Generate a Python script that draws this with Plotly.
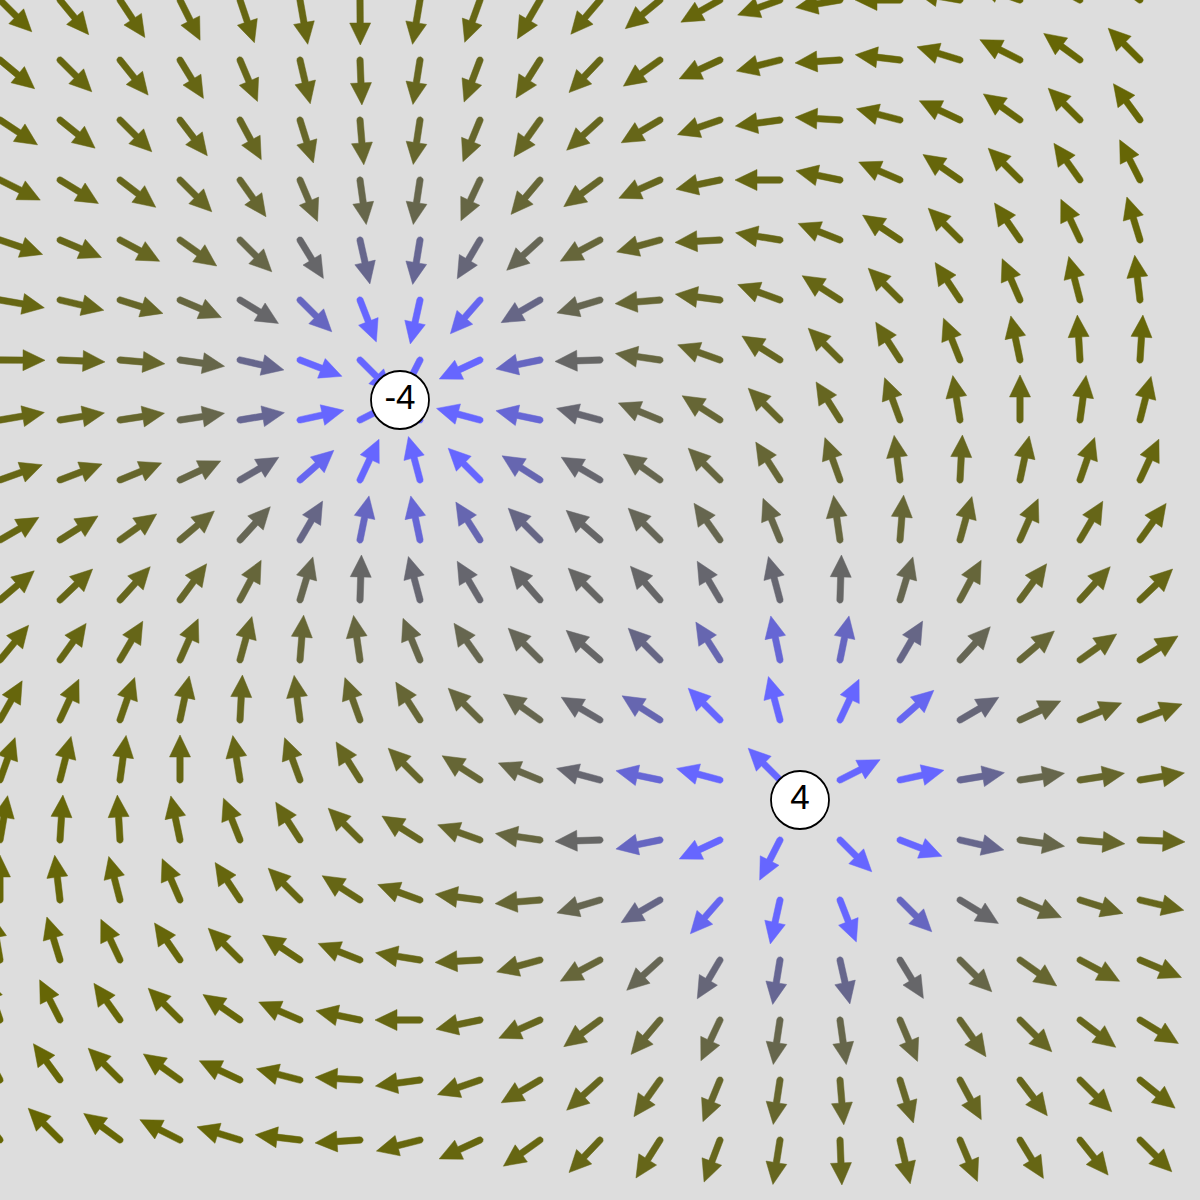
import math
import numpy as np
import plotly.graph_objects as go

# ---- data ----
charge_values = [-4, 4]
charge_x = [400, 800]
charge_y = [400, 800]
charge_labels = ["-4", "4"]

grid_x = list(range(0, 1200, 60))
grid_y = list(range(0, 1200, 60))

# ---- style ----
W = H = 1200
ARROW_LEN = 45
HEAD_LEN = 22
HEAD_HALF = 10.5
SHAFT_HALF = 3.2
COLOR_GAIN = 1.0e6
BG = "#dddddd"

fig = go.Figure()

for gy in grid_y:
    for gx in grid_x:
        ex = ey = 0.0
        for q, cx, cy in zip(charge_values, charge_x, charge_y):
            dx, dy = gx - cx, gy - cy
            r = math.hypot(dx, dy)
            ex += q * dx / r ** 3
            ey += q * dy / r ** 3
        mag = math.hypot(ex, ey)
        ux, uy = ex / mag, ey / mag
        px, py = -uy, ux
        b = min(255, COLOR_GAIN * mag)
        color = f"rgb(102,102,{int(round(b))})"
        tipx, tipy = gx + ux * ARROW_LEN, gy + uy * ARROW_LEN
        bx, by = gx + ux * (ARROW_LEN - HEAD_LEN), gy + uy * (ARROW_LEN - HEAD_LEN)
        xs, ys = [], []
        for t in np.linspace(0, math.pi, 11):
            xs.append(gx + SHAFT_HALF * (px * math.cos(t) - ux * math.sin(t)))
            ys.append(gy + SHAFT_HALF * (py * math.cos(t) - uy * math.sin(t)))
        for (s, e) in [(-SHAFT_HALF, 0), (-HEAD_HALF, 0), (0, 1), (HEAD_HALF, 0), (SHAFT_HALF, 0)]:
            if e == 1:
                xs.append(tipx); ys.append(tipy)
            else:
                xs.append(bx + px * s); ys.append(by + py * s)
        xs.append(xs[0]); ys.append(ys[0])
        fig.add_trace(go.Scatter(
            x=xs, y=ys, mode="lines", fill="toself", fillcolor=color,
            line=dict(color=color, width=0.5), hoverinfo="skip", showlegend=False,
        ))

fig.add_trace(go.Scatter(
    x=charge_x, y=charge_y, mode="markers+text", text=charge_labels,
    textposition="middle center",
    textfont=dict(family="Liberation Sans, Arial, sans-serif", size=35, color="black"),
    marker=dict(size=58, color="white", line=dict(color="black", width=1.8)),
    hoverinfo="skip", showlegend=False, cliponaxis=False,
))

fig.update_layout(
    width=W, height=H, margin=dict(l=0, r=0, t=0, b=0),
    paper_bgcolor=BG, plot_bgcolor=BG, showlegend=False,
    xaxis=dict(range=[0, W], visible=False, showgrid=False, zeroline=False, fixedrange=True),
    yaxis=dict(range=[H, 0], visible=False, showgrid=False, zeroline=False, fixedrange=True),
)

fig.write_html(
    "out.html",
    config={"displayModeBar": False, "staticPlot": True},
    post_script="document.body.style.margin='0px';document.body.style.overflow='hidden';",
)
